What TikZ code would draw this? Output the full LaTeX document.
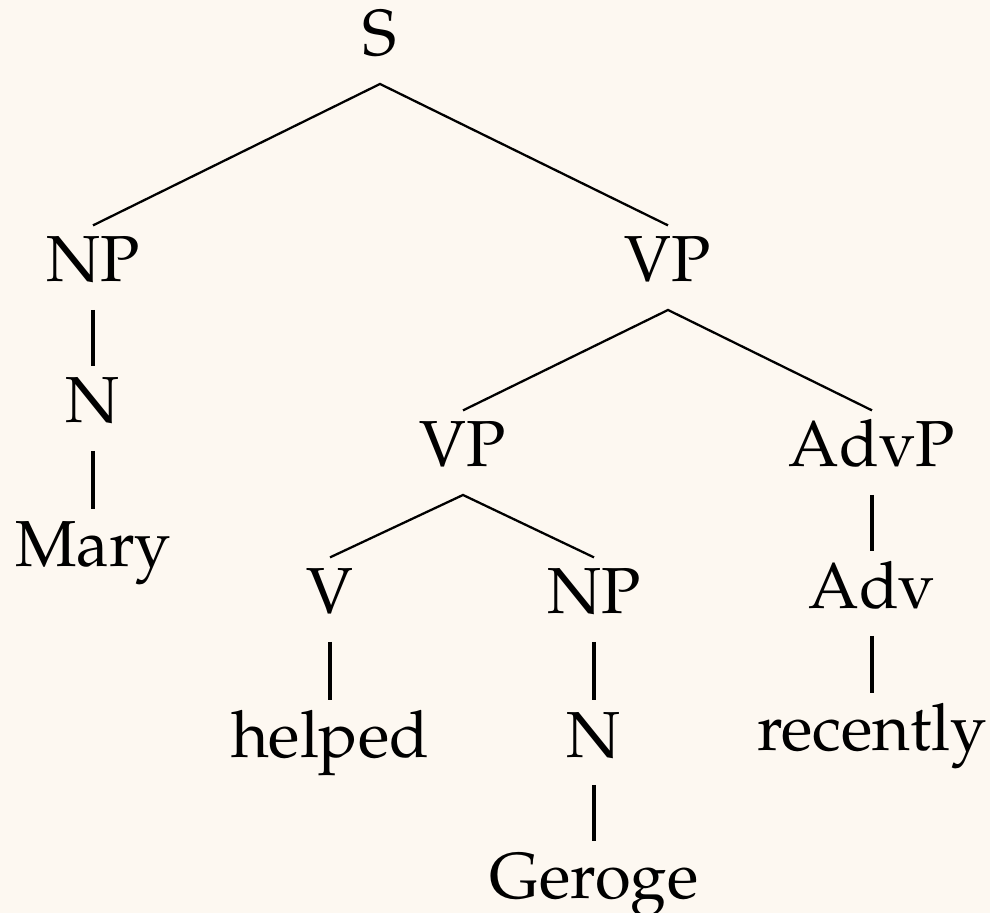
\documentclass[tikz,border=0pt]{standalone}
\usepackage[T1]{fontenc}
\usepackage{mathpazo}
\usepackage{tikz}
\definecolor{paper}{RGB}{253,248,241}
\tikzset{
  cat/.style={anchor=base, inner sep=1.6pt, text height=0.69em, text depth=0.25em},
  branch/.style={line width=0.35pt},
  unary/.style={line width=0.7pt}
}

\begin{document}
\begin{tikzpicture}[x=0.0054cm, y=-0.0054cm]

\fill[paper] (0,0) rectangle (990,913);
\useasboundingbox (0,0) rectangle (990,913);

\node[cat] (S)    at (380, 56)  {S};
\node[cat] (NP)   at (93, 282)  {NP};
\node[cat] (VP)   at (668, 282) {VP};
\node[cat] (N)    at (93, 423)  {N};
\node[cat] (Mary) at (93, 566)  {Mary};
\node[cat] (VPa)  at (463, 467) {VP};
\node[cat] (AdvP) at (872, 467) {AdvP};
\node[cat] (V)    at (330, 614) {V};
\node[cat] (NPb)  at (594, 614) {NP};
\node[cat] (Adv)  at (872, 608) {Adv};
\node[cat] (helped)   at (330, 757) {helped};
\node[cat] (Nb)       at (594, 757) {N};
\node[cat] (recently) at (872, 750) {recently};
\node[cat] (Geroge)   at (594, 898) {Geroge};

\draw[branch] (NP.north) -- (S.south) -- (VP.north);
\draw[branch] (VPa.north) -- (VP.south) -- (AdvP.north);
\draw[branch] (V.north) -- (VPa.south) -- (NPb.north);

% -------- unary branches -----------
\draw[unary] (NP.south) -- (N.north);
\draw[unary] (N.south) -- (Mary.north);
\draw[unary] (AdvP.south) -- (Adv.north);
\draw[unary] (Adv.south) -- (recently.north);
\draw[unary] (V.south) -- (helped.north);
\draw[unary] (NPb.south) -- (Nb.north);
\draw[unary] (Nb.south) -- (Geroge.north);
\end{tikzpicture}
\end{document}
